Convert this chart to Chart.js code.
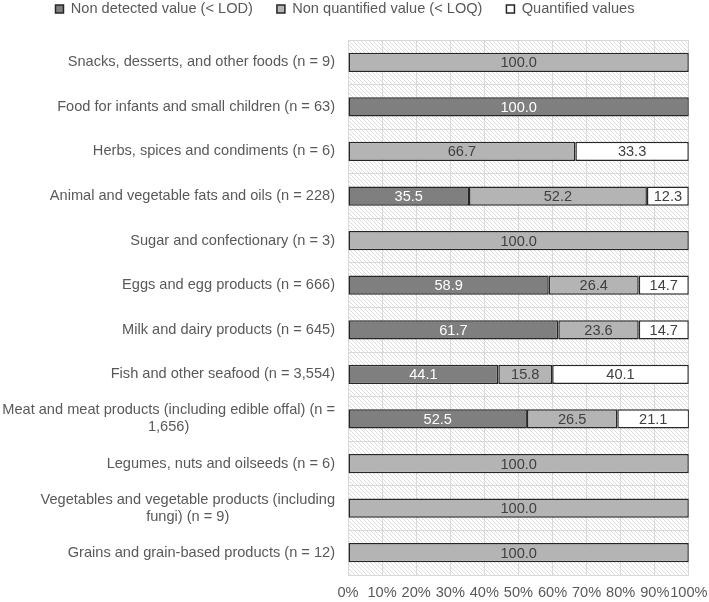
<!DOCTYPE html>
<html>
<head>
<meta charset="utf-8">
<script src="https://cdn.jsdelivr.net/npm/chart.js@4.4.1/dist/chart.umd.min.js"></script>
<style>
html,body{margin:0;padding:0;background:#fff;}
#wrap{width:709px;height:602px;}
</style>
</head>
<body>
<div id="wrap"><canvas id="c" width="709" height="602"></canvas></div>
<script>
const categories = [
  "Snacks, desserts, and other foods (n = 9)",
  "Food for infants and small children (n = 63)",
  "Herbs, spices and condiments (n = 6)",
  "Animal and vegetable fats and oils (n = 228)",
  "Sugar and confectionary (n = 3)",
  "Eggs and egg products (n = 666)",
  "Milk and dairy products (n = 645)",
  "Fish and other seafood (n = 3,554)",
  ["Meat and meat products (including edible offal) (n =", "1,656)"],
  "Legumes, nuts and oilseeds (n = 6)",
  ["Vegetables and vegetable products (including", "fungi) (n = 9)"],
  "Grains and grain-based products (n = 12)"
];
const seriesNames = ["Non detected value (< LOD)", "Non quantified value (< LOQ)", "Quantified values"];
const nonDetected  = [0, 100, 0, 35.5, 0, 58.9, 61.7, 44.1, 52.5, 0, 0, 0];
const nonQuantified = [100, 0, 66.7, 52.2, 100, 26.4, 23.6, 15.8, 26.5, 100, 100, 100];
const quantified   = [0, 0, 33.3, 12.3, 0, 14.7, 14.7, 40.1, 21.1, 0, 0, 0];
const xTicks = [0,10,20,30,40,50,60,70,80,90,100];

const FONT = "'Liberation Sans', Arial, sans-serif";
const FS = 14.6;
const barColors = ['#7f7f7f', '#b4b4b4', '#ffffff'];
const valueColors = ['#ffffff', '#404040', '#404040'];

function toBars(arr){ return arr.map(v => v === 0 ? null : v); }

const LEGEND_PAD = 24;
const legendTweak = {
  id: 'legendTweak',
  afterInit(chart){
    const lg = chart.legend;
    if (!lg) return;
    const f = lg.fit;
    lg.fit = function(){ f.call(this); this.height = 40; };
    const d = lg.draw;
    lg.draw = function(...args){
      const t = this.top, b = this.bottom;
      const shift = (t + LEGEND_PAD + FS / 2) - 9;
      this.top = t - shift; this.bottom = b - shift;
      d.apply(this, args);
      this.top = t; this.bottom = b;
    };
  }
};

const hatchPlugin = {
  id: 'hatch',
  beforeDraw(chart){
    const {ctx, chartArea:{left, top, right, bottom}} = chart;
    const s = 4;
    const pc = document.createElement('canvas');
    pc.width = s; pc.height = s;
    const p = pc.getContext('2d');
    p.fillStyle = '#ffffff'; p.fillRect(0,0,s,s);
    p.strokeStyle = '#dcdcdc'; p.lineWidth = 1;
    p.beginPath();
    p.moveTo(-1,-1); p.lineTo(s+1,s+1);
    p.moveTo(-1-s,-1); p.lineTo(1,s+1);
    p.moveTo(s-1,-1); p.lineTo(2*s+1,s+1);
    p.stroke();
    ctx.save();
    ctx.fillStyle = ctx.createPattern(pc, 'repeat');
    ctx.fillRect(left, top, right-left, bottom-top);
    ctx.restore();
  }
};

const labelPlugin = {
  id: 'catLabels',
  afterDraw(chart){
    const {ctx} = chart;
    const yScale = chart.scales.y;
    const rightX = chart.chartArea.left - 13;
    ctx.save();
    ctx.font = FS + 'px ' + FONT;
    ctx.fillStyle = '#595959';
    ctx.textBaseline = 'middle';
    const lh = 17;
    categories.forEach((lab, i) => {
      const lines = Array.isArray(lab) ? lab : [lab];
      const y0 = yScale.getPixelForTick(i);
      const w = Math.max(...lines.map(l => ctx.measureText(l).width));
      const cx = rightX - w/2;
      ctx.textAlign = 'center';
      lines.forEach((l, k) => {
        const y = y0 + (k - (lines.length-1)/2) * lh;
        ctx.fillText(l, cx, y);
      });
    });
    ctx.restore();
  }
};

const valuePlugin = {
  id: 'values',
  afterDatasetsDraw(chart){
    const {ctx} = chart;
    ctx.save();
    ctx.font = FS + 'px ' + FONT;
    ctx.textAlign = 'center';
    ctx.textBaseline = 'middle';
    chart.data.datasets.forEach((ds, di) => {
      const meta = chart.getDatasetMeta(di);
      meta.data.forEach((el, i) => {
        const v = ds.data[i];
        if (v === null || v === undefined) return;
        const pt = el.getCenterPoint();
        ctx.fillStyle = valueColors[di];
        ctx.fillText(v.toFixed(1), pt.x, pt.y + 1);
      });
    });
    ctx.restore();
  }
};

const seriesData = [nonDetected, nonQuantified, quantified];

new Chart(document.getElementById('c'), {
  type: 'bar',
  data: {
    labels: categories.map(c => Array.isArray(c) ? c.join(' ') : c),
    datasets: seriesNames.map((name, i) => ({
      label: name,
      data: toBars(seriesData[i]),
      backgroundColor: barColors[i],
      borderColor: '#262626',
      borderWidth: 1.5,
      borderSkipped: false,
      barPercentage: 0.43,
      categoryPercentage: 1
    }))
  },
  options: {
    indexAxis: 'y',
    responsive: false,
    animation: false,
    devicePixelRatio: 1,
    layout: { padding: { left: 0, right: 19, top: 0, bottom: 0 } },
    plugins: {
      legend: {
        position: 'top',
        labels: {
          font: { family: FONT, size: FS },
          color: '#595959',
          boxWidth: 8,
          boxHeight: 8,
          padding: LEGEND_PAD
        }
      },
      tooltip: { enabled: false }
    },
    scales: {
      x: {
        stacked: true,
        min: 0,
        max: 100,
        afterBuildTicks(scale){ scale.ticks = xTicks.map(v => ({value: v})); },
        afterFit(scale){ scale.height = 27; },
        ticks: {
          callback: v => v + '%',
          font: { family: FONT, size: FS, lineHeight: 2.26 },
          color: '#595959',
          padding: 1.5,
          maxRotation: 0,
          autoSkip: false
        },
        grid: { color: '#d9d9d9', lineWidth: 1, drawTicks: false },
        border: { display: false }
      },
      y: {
        stacked: true,
        afterFit(scale){ scale.width = 348; },
        ticks: { display: false },
        grid: { color: '#d9d9d9', lineWidth: 1, drawTicks: false, offset: true },
        border: { display: false }
      }
    }
  },
  plugins: [legendTweak, hatchPlugin, labelPlugin, valuePlugin]
});
</script>
</body>
</html>
